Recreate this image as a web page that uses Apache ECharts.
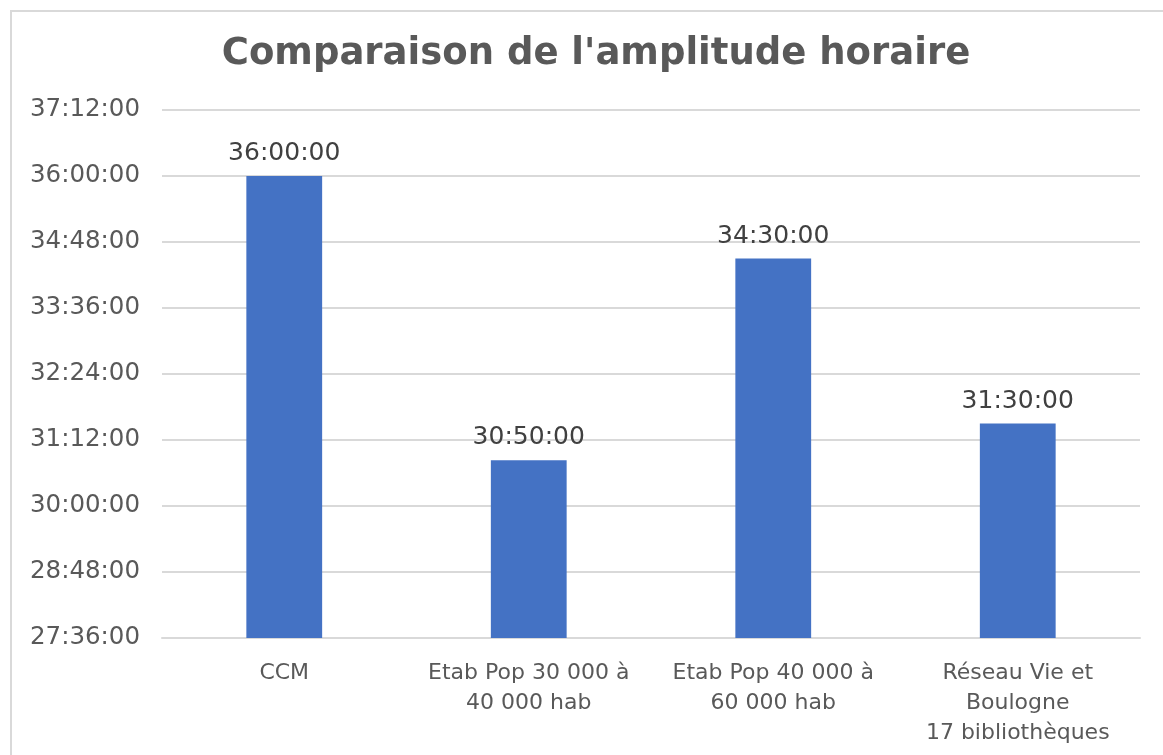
<!DOCTYPE html>
<html>
<head>
<meta charset="utf-8">
<script src="https://cdn.jsdelivr.net/npm/echarts@6/dist/echarts.min.js"></script>
<style>
  html, body { margin: 0; padding: 0; background: #fff; }
  #frame { position: absolute; left: 10px; top: 10px; width: 1170px; height: 760px; border: 2px solid #d9d9d9; box-sizing: border-box; }
  #main { position: absolute; left: 0; top: 0; width: 1163px; height: 755px; }
</style>
</head>
<body>
<div id="frame"></div>
<div id="main"></div>
<script>
// durées en minutes
var categories = ['CCM', 'Etab Pop 30 000 à\n40 000 hab', 'Etab Pop 40 000 à\n60 000 hab', 'Réseau Vie et\nBoulogne\n17 bibliothèques'];
var amplitude = [2160, 1850, 2070, 1890];
var yMin = 1656, yMax = 2232, yStep = 72;

function hms(v) {
  var h = Math.floor(v / 60), m = Math.round(v % 60);
  return h + ':' + (m < 10 ? '0' : '') + m + ':00';
}

var myChart = echarts.init(document.getElementById('main'));
var option = {
  animation: false,
  title: {
    text: "Comparaison de l'amplitude horaire",
    left: 591, top: 31, textAlign: 'center',
    textStyle: { fontFamily: 'DejaVu Sans', fontWeight: 'bold', fontSize: 37, color: '#595959' }
  },
  grid: { left: 162, right: 23, top: 110, bottom: 117 },
  xAxis: {
    type: 'category',
    data: categories,
    axisLine: { lineStyle: { color: '#d9d9d9', width: 2 } },
    axisTick: { show: false },
    axisLabel: { interval: 0, hideOverlap: false, fontFamily: 'DejaVu Sans', fontSize: 22, color: '#595959', lineHeight: 30, margin: 20 }
  },
  yAxis: {
    type: 'value',
    min: yMin, max: yMax, interval: yStep,
    axisLine: { show: false },
    axisTick: { show: false },
    splitLine: { lineStyle: { color: '#d9d9d9', width: 2 } },
    axisLabel: { fontFamily: 'DejaVu Sans', fontSize: 24.5, color: '#595959', margin: 22, formatter: hms }
  },
  series: [{
    type: 'bar',
    data: amplitude,
    barWidth: '31%',
    itemStyle: { color: '#4472c4' },
    label: { show: true, position: 'top', distance: 10, fontFamily: 'DejaVu Sans', fontSize: 25, color: '#404040', formatter: function (p) { return hms(p.value); } }
  }]
};
myChart.setOption(option);
</script>
</body>
</html>
